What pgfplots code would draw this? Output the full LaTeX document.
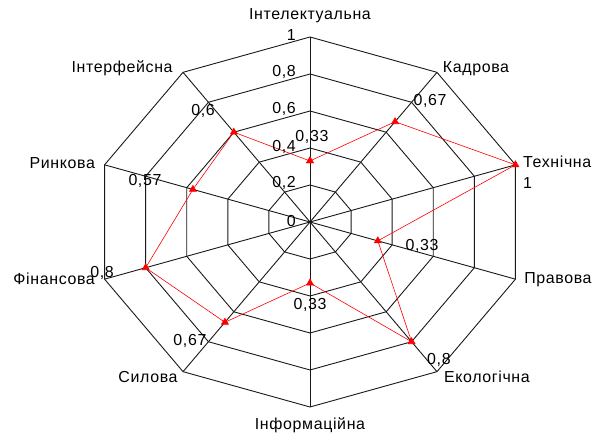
\documentclass[border=0pt]{standalone}
\usepackage{fontspec}
\setmainfont[LetterSpace=4]{Liberation Sans}
\usepackage{pgfplots}
\usepackage{pgfplotstable}
\pgfplotsset{compat=1.18}
\pgfplotstableread{
a r
90 0.33
54 0.67
18 1
-18 0.33
-54 0.8
-90 0.33
-126 0.67
-162 0.8
-198 0.57
-234 0.6
90 0.33
}\data
\pgfplotstableread{
a b
90 0
54 0
18 0
-18 0
-54 0
-90 0
-126 0
-162 0
-198 0
-234 0
-270 0
}\angles
\pgfplotstableread{
r b
0 0
1 0
}\spoke
\begin{document}
\fontsize{16}{19}\selectfont
\begin{tikzpicture}[every node/.append style={inner sep=0pt}]
\begin{axis}[
  scale only axis, x=216bp, y=185bp,
  xmin=-1.4352, xmax=1.3148, ymin=-1.1459, ymax=1.2,
  axis line style={draw=none}, ticks=none, clip=false,
]
% rings
\pgfplotsinvokeforeach{0.2,0.4,0.6,0.8,1}{
  \addplot[black!90, line width=0.9bp, mark=none]
    table[x expr={#1*cos(\thisrow{a})}, y expr={#1*sin(\thisrow{a})}] {\angles};
}
% spokes
\pgfplotsinvokeforeach{90,54,18,-18,-54,-90,-126,-162,-198,-234}{
  \addplot[black!90, line width=0.9bp, mark=none]
    table[x expr={\thisrow{r}*cos(#1)}, y expr={\thisrow{r}*sin(#1)}] {\spoke};
}
% data
\addplot[red, line width=0.6bp, mark=triangle*, mark size=4bp, mark options={fill=red, draw=red}]
  table[x expr={\thisrow{r}*cos(\thisrow{a})}, y expr={\thisrow{r}*sin(\thisrow{a})}] {\data};
% category labels
\node at (axis cs:0,1.1135) {Інтелектуальна};
\node at (axis cs:0.7685,0.827) {Кадрова};
\node[anchor=west] at (axis cs:0.986,0.324) {Технічна};
\node[anchor=west] at (axis cs:0.986,0.211) {1};
\node[anchor=west] at (axis cs:0.991,-0.3135) {Правова};
\node at (axis cs:0.819,-0.838) {Екологічна};
\node at (axis cs:0,-1.097) {Інформаційна};
\node at (axis cs:-0.75,-0.838) {Силова};
\node[anchor=east] at (axis cs:-0.995,-0.308) {Фінансова};
\node[anchor=east] at (axis cs:-0.995,0.319) {Ринкова};
\node at (axis cs:-0.870,0.832) {Інтерфейсна};
% scale labels
\node[anchor=east] at (axis cs:-0.0648,1.011) {1};
\node[anchor=east] at (axis cs:-0.0648,0.811) {0,8};
\node[anchor=east] at (axis cs:-0.0648,0.611) {0,6};
\node[anchor=east] at (axis cs:-0.0648,0.405) {0,4};
\node[anchor=east] at (axis cs:-0.0648,0.211) {0,2};
\node[anchor=east] at (axis cs:-0.0648,0.005) {0};
% value labels
\node at (axis cs:0.009,0.459) {0,33};
\node at (axis cs:0.556,0.654) {0,67};
\node at (axis cs:0.519,-0.130) {0,33};
\node at (axis cs:0.597,-0.746) {0,8};
\node at (axis cs:0,-0.449) {0,33};
\node at (axis cs:-0.556,-0.643) {0,67};
\node at (axis cs:-0.963,-0.276) {0,8};
\node at (axis cs:-0.764,0.222) {0,57};
\node at (axis cs:-0.495,0.6) {0,6};
\end{axis}
\pgfresetboundingbox
\path[use as bounding box] (current axis.south west) rectangle (current axis.north east);
\end{tikzpicture}
\end{document}
